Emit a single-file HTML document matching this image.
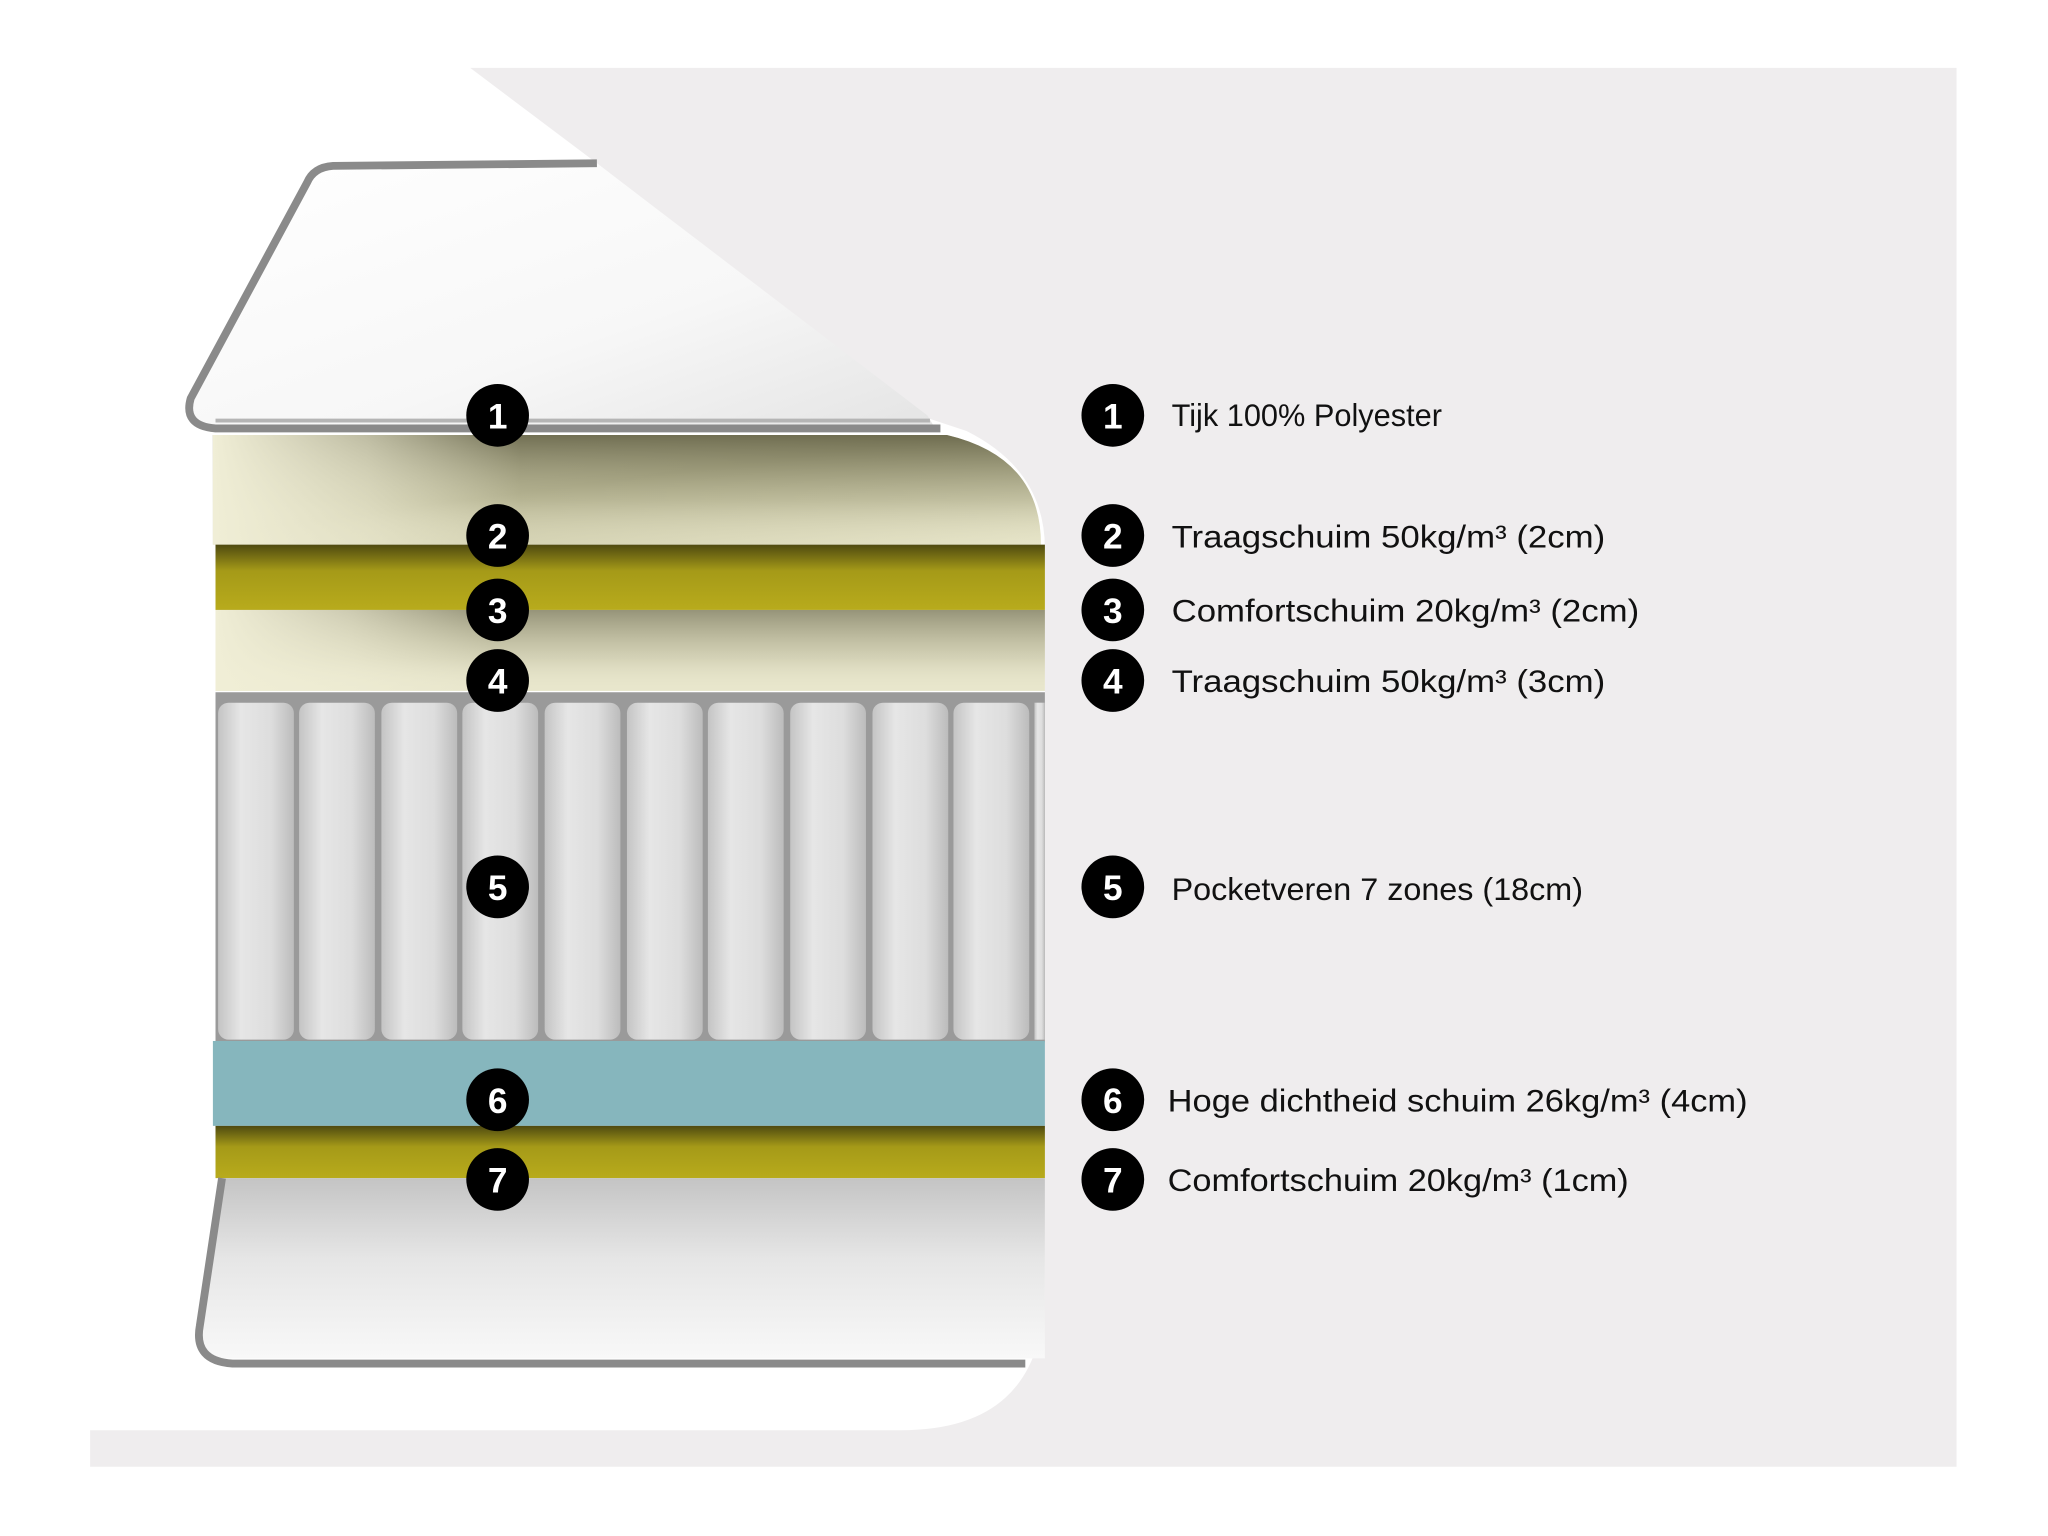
<!DOCTYPE html>
<html><head><meta charset="utf-8"><style>
html,body{margin:0;padding:0;background:#fff;}
svg{display:block}
text{font-family:"Liberation Sans",Arial,sans-serif;}
</style></head><body>
<svg width="2048" height="1536" viewBox="0 0 1568 1176" xmlns="http://www.w3.org/2000/svg">
<defs>
<linearGradient id="cream" x1="0" y1="0" x2="1" y2="1">
<stop offset="0" stop-color="#ecead2"/><stop offset="0.45" stop-color="#c9c7a6"/><stop offset="1" stop-color="#e6e4c8"/></linearGradient>
<linearGradient id="creamV" x1="0" y1="0" x2="0" y2="1">
<stop offset="0" stop-color="#5e5c40" stop-opacity="0.85"/><stop offset="0.6" stop-color="#8a8866" stop-opacity="0.3"/><stop offset="1" stop-color="#e8e6cc" stop-opacity="0"/></linearGradient>
<linearGradient id="fadeL" x1="0" y1="0" x2="1" y2="0">
<stop offset="0" stop-color="#f0eed6" stop-opacity="1"/><stop offset="0.35" stop-color="#f0eed6" stop-opacity="0.6"/><stop offset="0.7" stop-color="#f0eed6" stop-opacity="0"/></linearGradient>
<linearGradient id="yel" x1="0" y1="0" x2="0" y2="1">
<stop offset="0" stop-color="#4f4a10"/><stop offset="0.4" stop-color="#a59a18"/><stop offset="1" stop-color="#b8ab1c"/></linearGradient>
<linearGradient id="cover" x1="0" y1="0" x2="1" y2="1">
<stop offset="0" stop-color="#ffffff"/><stop offset="0.6" stop-color="#f7f7f7"/><stop offset="1" stop-color="#e4e4e4"/></linearGradient>
<linearGradient id="bot" x1="0" y1="0" x2="0" y2="1">
<stop offset="0" stop-color="#c4c4c4"/><stop offset="0.45" stop-color="#e6e6e6"/><stop offset="1" stop-color="#f8f8f8"/></linearGradient>
<linearGradient id="spring" x1="0" y1="0" x2="1" y2="0">
<stop offset="0" stop-color="#c4c4c4"/><stop offset="0.3" stop-color="#e6e6e6"/><stop offset="0.7" stop-color="#dddddd"/><stop offset="1" stop-color="#bcbcbc"/></linearGradient>
</defs>
<path d="M360 52 L1498 52 L1498 1123 L69 1123 L69 1095 L690 1095 Q800 1095 800 985 L800 420 Q800 360 740 330 L710 320 L457 125 Z" fill="#efedee"/>
<path d="M255 127 L457 125 L710 318 L716 328 L165 328 Q140 326 146 305 L235 140 Q240 128 255 127 Z" fill="url(#cover)"/>
<path d="M457 125 L255 127 Q240 128 235 140 L146 305 Q140 326 165 328 L720 328" fill="none" stroke="#8a8a8a" stroke-width="6"/>
<path d="M165 322 L712 322" stroke="#b5b5b5" stroke-width="3"/>
<path d="M163 333 L725 333 Q797 350 797 417 L163 417 Z" fill="url(#cream)"/>
<path d="M163 333 L725 333 Q797 350 797 417 L163 417 Z" fill="url(#creamV)"/>
<path d="M163 333 L500 333 L500 417 L163 417 Z" fill="url(#fadeL)"/>
<rect x="165" y="417" width="635" height="50" fill="url(#yel)"/>
<rect x="165" y="467" width="635" height="62" fill="#e8e6cc"/>
<rect x="165" y="467" width="635" height="62" fill="url(#creamV)" opacity="0.7"/>
<rect x="165" y="467" width="300" height="62" fill="url(#fadeL)"/>
<rect x="165" y="530" width="635" height="268" fill="#9a9a9a"/>
<g fill="url(#spring)">
<rect x="167" y="538" width="58" height="258" rx="8"/>
<rect x="229" y="538" width="58" height="258" rx="8"/>
<rect x="292" y="538" width="58" height="258" rx="8"/>
<rect x="354" y="538" width="58" height="258" rx="8"/>
<rect x="417" y="538" width="58" height="258" rx="8"/>
<rect x="480" y="538" width="58" height="258" rx="8"/>
<rect x="542" y="538" width="58" height="258" rx="8"/>
<rect x="605" y="538" width="58" height="258" rx="8"/>
<rect x="668" y="538" width="58" height="258" rx="8"/>
<rect x="730" y="538" width="58" height="258" rx="8"/>
<rect x="792" y="538" width="8" height="258"/>
</g>
<rect x="163" y="797" width="637" height="65" fill="#86b6bd"/>
<rect x="165" y="862" width="635" height="40" fill="url(#yel)"/>
<path d="M170 902 L800 902 L800 1040 L170 1040 Q150 1038 152 1020 Z" fill="url(#bot)"/>
<path d="M170 902 L153 1015 Q148 1042 178 1044 L785 1044" fill="none" stroke="#8a8a8a" stroke-width="6"/>
<g fill="#000">
<circle cx="381" cy="318" r="24"/><circle cx="381" cy="410" r="24"/><circle cx="381" cy="467" r="24"/>
<circle cx="381" cy="521" r="24"/><circle cx="381" cy="679" r="24"/><circle cx="381" cy="842" r="24"/><circle cx="381" cy="903" r="24"/>
<circle cx="852" cy="318" r="24"/><circle cx="852" cy="410" r="24"/><circle cx="852" cy="467" r="24"/>
<circle cx="852" cy="521" r="24"/><circle cx="852" cy="679" r="24"/><circle cx="852" cy="842" r="24"/><circle cx="852" cy="903" r="24"/>
</g>
<g fill="#fff" font-size="27" font-weight="bold" text-anchor="middle">
<text x="381" y="328">1</text><text x="381" y="420">2</text><text x="381" y="477">3</text><text x="381" y="531">4</text>
<text x="381" y="689">5</text><text x="381" y="852">6</text><text x="381" y="913">7</text>
<text x="852" y="328">1</text><text x="852" y="420">2</text><text x="852" y="477">3</text><text x="852" y="531">4</text>
<text x="852" y="689">5</text><text x="852" y="852">6</text><text x="852" y="913">7</text>
</g>
<g fill="#111" font-size="24" lengthAdjust="spacingAndGlyphs">
<text x="897" y="326" textLength="207" lengthAdjust="spacingAndGlyphs">Tijk 100% Polyester</text>
<text x="897" y="419" textLength="332" lengthAdjust="spacingAndGlyphs">Traagschuim 50kg/m³ (2cm)</text>
<text x="897" y="476" textLength="358" lengthAdjust="spacingAndGlyphs">Comfortschuim 20kg/m³ (2cm)</text>
<text x="897" y="530" textLength="332" lengthAdjust="spacingAndGlyphs">Traagschuim 50kg/m³ (3cm)</text>
<text x="897" y="689" textLength="315" lengthAdjust="spacingAndGlyphs">Pocketveren 7 zones (18cm)</text>
<text x="894" y="851" textLength="444" lengthAdjust="spacingAndGlyphs">Hoge dichtheid schuim 26kg/m³ (4cm)</text>
<text x="894" y="912" textLength="353" lengthAdjust="spacingAndGlyphs">Comfortschuim 20kg/m³ (1cm)</text>
</g>
</svg>
</body></html>
